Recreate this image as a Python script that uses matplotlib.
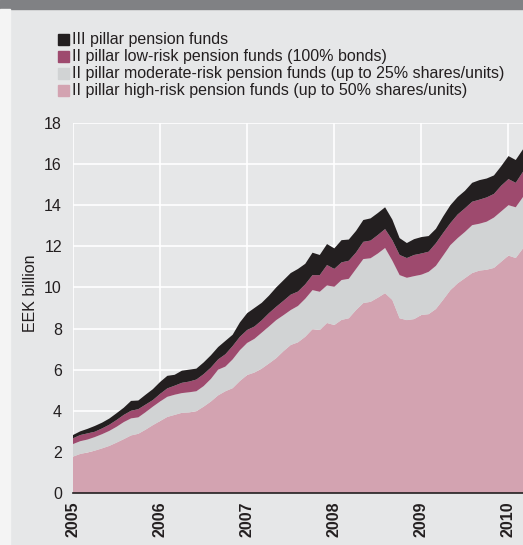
import matplotlib.pyplot as plt
import numpy as np
from matplotlib.patches import Rectangle

plt.rcParams['font.family'] = ['Liberation Sans', 'DejaVu Sans']

# monthly, Jan 2005 .. Mar 2010 (EEK billion)
months = np.arange(63)
high_risk = [1.77, 1.90, 1.97, 2.06, 2.17, 2.29, 2.45, 2.62, 2.80, 2.88,
             3.08, 3.30, 3.50, 3.70, 3.80, 3.90, 3.92, 3.98, 4.20, 4.45,
             4.75, 4.95, 5.10, 5.45, 5.74, 5.86, 6.05, 6.30, 6.56, 6.90,
             7.20, 7.33, 7.60, 7.97, 7.93, 8.27, 8.17, 8.42, 8.50, 8.90,
             9.24, 9.30, 9.50, 9.72, 9.39, 8.50, 8.41, 8.46, 8.66, 8.70,
             8.95, 9.40, 9.87, 10.20, 10.45, 10.70, 10.82, 10.86, 10.95, 11.25,
             11.55, 11.43, 11.90]
moderate_risk = [0.61, 0.62, 0.63, 0.66, 0.69, 0.73, 0.77, 0.83, 0.83, 0.80,
                 0.85, 0.90, 0.95, 0.98, 0.98, 0.96, 0.98, 0.97, 1.00, 1.10,
                 1.25, 1.20, 1.40, 1.50, 1.56, 1.64, 1.75, 1.80, 1.85, 1.75,
                 1.70, 1.77, 1.85, 1.90, 1.86, 1.83, 1.86, 1.94, 1.92, 2.00,
                 2.14, 2.12, 2.15, 2.20, 1.91, 2.10, 2.06, 2.09, 1.96, 2.06,
                 2.10, 2.15, 2.19, 2.20, 2.25, 2.33, 2.28, 2.34, 2.45, 2.45,
                 2.45, 2.47, 2.50]
low_risk = [0.28, 0.30, 0.30, 0.26, 0.28, 0.30, 0.33, 0.35, 0.37, 0.40,
            0.37, 0.32, 0.37, 0.41, 0.44, 0.50, 0.52, 0.57, 0.58, 0.55,
            0.50, 0.60, 0.65, 0.65, 0.63, 0.60, 0.60, 0.65, 0.65, 0.70,
            0.75, 0.70, 0.70, 0.73, 0.81, 0.99, 0.87, 0.86, 0.88, 0.80,
            0.84, 0.86, 0.90, 0.92, 1.00, 0.98, 0.96, 1.03, 1.03, 0.98,
            1.10, 1.10, 1.07, 1.15, 1.15, 1.14, 1.17, 1.18, 1.15, 1.25,
            1.27, 1.19, 1.23]
third_pillar = [0.16, 0.18, 0.22, 0.28, 0.28, 0.30, 0.33, 0.35, 0.48, 0.42,
                0.48, 0.53, 0.58, 0.61, 0.53, 0.59, 0.58, 0.53, 0.57, 0.60,
                0.60, 0.65, 0.55, 0.70, 0.82, 0.90, 0.85, 0.85, 0.94, 1.00,
                1.05, 1.10, 1.00, 1.09, 0.98, 1.02, 1.00, 1.08, 1.03, 1.05,
                1.06, 1.08, 1.07, 1.06, 1.00, 0.82, 0.73, 0.77, 0.80, 0.76,
                0.70, 0.80, 0.87, 0.85, 0.85, 0.92, 0.95, 0.92, 0.90, 0.95,
                1.12, 1.11, 1.09]
years = [2005, 2006, 2007, 2008, 2009, 2010]
labels = ['III pillar pension funds',
          'II pillar low-risk pension funds (100% bonds)',
          'II pillar moderate-risk pension funds (up to 25% shares/units)',
          'II pillar high-risk pension funds (up to 50% shares/units)']
colors = ['#231f20', '#9e4a6e', '#d1d3d4', '#d3a3b1']
bg = '#e6e7e8'
fs = 11.5

x = 2005 + months / 12

fig = plt.figure(figsize=(5.23, 5.45), dpi=100, facecolor=bg)
fig.patches.append(Rectangle((0, 1 - 9 / 545), 1, 9 / 545, transform=fig.transFigure,
                             color='#808184', zorder=0))
fig.patches.append(Rectangle((0, 0), 10 / 523, 1 - 9 / 545, transform=fig.transFigure,
                             color='#f4f4f4', zorder=0))

ax = fig.add_axes([73 / 523, 1 - 493 / 545, 1 - 73 / 523, 370 / 545])
ax.set_facecolor(bg)
ax.stackplot(x, high_risk, moderate_risk, low_risk, third_pillar,
             colors=colors[::-1], linewidth=0, zorder=2)

ax.set_xlim(2005, 2005 + 62 / 12)
ax.set_ylim(0, 18)
ax.set_yticks(range(0, 19, 2))
ax.set_xticks(years)
ax.set_xticklabels([str(y) for y in years], rotation=90, fontweight='bold', fontsize=fs)
ax.tick_params(axis='both', length=0, labelsize=fs, colors='#231f20')
ax.tick_params(axis='y', pad=8)
ax.tick_params(axis='x', pad=6)
ax.grid(True, color='white', linewidth=1.2, zorder=0)
ax.set_axisbelow(True)
for side in ['top', 'right', 'left']:
    ax.spines[side].set_visible(False)
ax.spines['bottom'].set_color('#231f20')
ax.spines['bottom'].set_linewidth(1.2)
ax.spines['bottom'].set_zorder(3)

ax.set_ylabel('EEK billion', fontsize=fs, color='#231f20')
ax.yaxis.set_label_coords(-0.078, 0.54)

# legend, drawn by hand to match the stacked squares
for k, (lab, col) in enumerate(zip(labels, colors)):
    yy = 1 - (39.5 + k * 17.1) / 545
    fig.patches.append(Rectangle((58 / 523, yy - 5.5 / 545), 11 / 523, 11 / 545,
                                 transform=fig.transFigure, color=col))
    fig.text(72 / 523, yy, lab, fontsize=fs, va='center', ha='left', color='#231f20')

fig.savefig('out.png', dpi=100, facecolor=bg)
